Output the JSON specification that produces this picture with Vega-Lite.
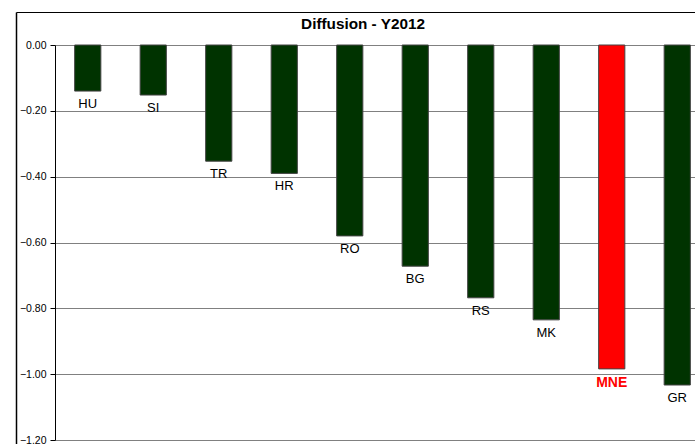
{
  "$schema": "https://vega.github.io/schema/vega-lite/v6.json",
  "autosize": {"type": "none"},
  "padding": {"left": 55, "top": 45, "right": 0, "bottom": 4},
  "width": 640,
  "height": 395,
  "background": "white",
  "title": {"text": "Diffusion - Y2012", "font": "Liberation Sans", "fontSize": 15.3, "fontWeight": "bold", "color": "black", "anchor": "middle", "dx": -12, "offset": -20},
  "config": {"view": {"stroke": null}},
  "data": {"values": [
    {"c": "HU", "v": -0.14},
    {"c": "SI", "v": -0.152},
    {"c": "TR", "v": -0.353},
    {"c": "HR", "v": -0.39},
    {"c": "RO", "v": -0.58},
    {"c": "BG", "v": -0.672},
    {"c": "RS", "v": -0.768},
    {"c": "MK", "v": -0.835},
    {"c": "MNE", "v": -0.984},
    {"c": "GR", "v": -1.033}
  ]},
  "layer": [
    {
      "layer": [
        {
          "mark": {"type": "bar", "stroke": "#444444", "strokeWidth": 1},
          "encoding": {
            "color": {"condition": {"test": "datum.c === 'MNE'", "value": "#ff0000"}, "value": "#003300"}
          }
        },
        {
          "transform": [{"filter": "datum.c !== 'MNE'"}],
          "mark": {"type": "text", "font": "Liberation Sans", "fontSize": 13, "color": "black", "baseline": "alphabetic", "dy": 17},
          "encoding": {"text": {"field": "c"}}
        },
        {
          "transform": [{"filter": "datum.c === 'MNE'"}],
          "mark": {"type": "text", "font": "Liberation Sans", "fontSize": 14, "fontWeight": "bold", "color": "#ff0000", "baseline": "alphabetic", "dy": 18.5},
          "encoding": {"text": {"field": "c"}}
        }
      ],
      "encoding": {
        "x": {"field": "c", "type": "nominal", "sort": null, "axis": null,
              "scale": {"range": [0, 655], "paddingInner": 0.6, "paddingOuter": 0.3}},
        "y": {"field": "v", "type": "quantitative",
              "scale": {"domain": [-1.2, 0], "nice": false},
              "axis": {"orient": "left", "values": [0, -0.2, -0.4, -0.6, -0.8, -1.0, -1.2], "format": ".2f", "title": null,
                       "labelFont": "Liberation Sans", "labelFontSize": 10.5, "labelColor": "black", "labelPadding": 4,
                       "tickSize": 5, "tickColor": "black", "domainColor": "black", "domainWidth": 1,
                       "grid": true, "gridColor": "#808080", "gridWidth": 1}}
      }
    },
    {
      "mark": {"type": "point", "opacity": 0},
      "encoding": {
        "x": {"field": "v", "type": "quantitative", "scale": {"range": [-39, 700], "zero": false},
              "axis": {"orient": "top", "offset": 33, "labels": false, "ticks": false, "grid": false, "title": null, "domainColor": "black", "domainWidth": 1}},
        "y": {"field": "v", "type": "quantitative", "scale": {"range": [410, -33], "zero": false},
              "axis": {"orient": "left", "offset": 39, "labels": false, "ticks": false, "grid": false, "title": null, "domainColor": "black", "domainWidth": 1.5}}
      }
    }
  ],
  "resolve": {"scale": {"x": "independent", "y": "independent"}, "axis": {"x": "independent", "y": "independent"}}
}
